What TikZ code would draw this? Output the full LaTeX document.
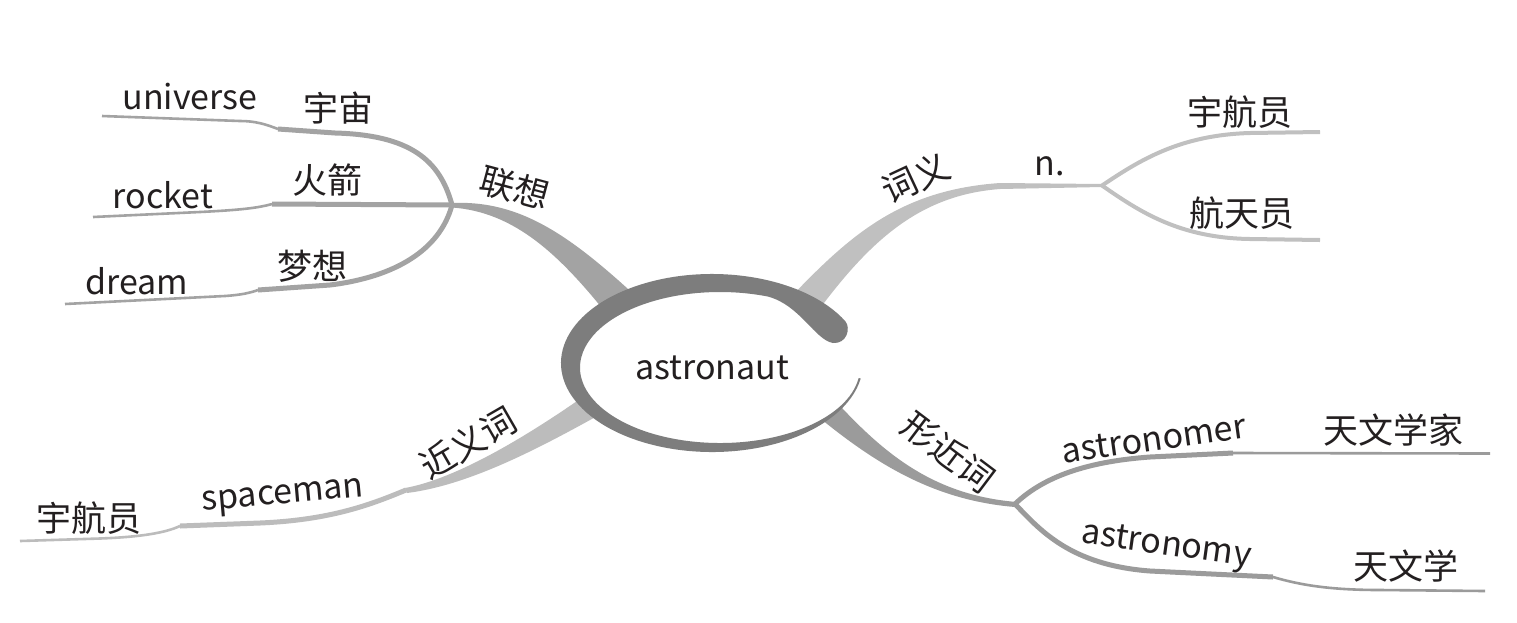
\documentclass[tikz,border=0pt]{standalone}
\usepackage{fontspec}
\setmainfont{Noto Sans CJK SC}
\definecolor{ringc}{HTML}{7D7D7D}
\definecolor{ca}{HTML}{A3A3A3}
\definecolor{cb}{HTML}{C0C0C0}
\definecolor{cc}{HTML}{BCBCBC}
\definecolor{cd}{HTML}{9B9B9B}
\definecolor{txtc}{HTML}{231F20}
\newcommand\latf{\fontsize{34}{40}\selectfont}
\newcommand\cjkf{\fontsize{35}{42}\selectfont}
\begin{document}
\begin{tikzpicture}[x=1pt,y=-1pt,
  lat/.style={inner sep=0pt, text=txtc, font=\latf},
  zh/.style={inner sep=0pt, text=txtc, font=\cjkf},
  subthick/.style={line width=5pt, line cap=butt},
  subthin/.style={line width=2.6pt, line cap=butt}]
\useasboundingbox[fill=white] (0,0) rectangle (1517,622);

% junctions
\coordinate (J1) at (452,205);
\coordinate (J2) at (1102,185.5);
\coordinate (J3) at (406,490);
\coordinate (J4) at (1015,504);

% ---------- 联想 ----------
\fill[ca] (452,203) .. controls (520,200) and (570,235) .. (640,300) -- (610,318) .. controls (560,255) and (515,212) .. (452,207.5) -- cycle;
\coordinate (U1) at (278,129);
\coordinate (U2) at (102,116);
\draw[ca,subthick] (J1) .. controls (440,160) and (410,135) .. (335,133) -- (U1);
\draw[ca,subthin] (U1) .. controls (265,124) and (255,121) .. (240,121) -- (U2);
\coordinate (R1) at (272,204);
\coordinate (R2) at (93,217);
\draw[ca,subthick] (J1) -- (R1);
\draw[ca,subthin] (R1) .. controls (258,208) and (240,210) .. (200,212) -- (R2);
\coordinate (D1) at (258,290);
\coordinate (D2) at (65,304);
\draw[ca,subthick] (J1) .. controls (440,250) and (395,277) .. (330,285) -- (D1);
\draw[ca,subthin] (D1) .. controls (250,293) and (240,295) .. (225,296) -- (D2);

% ---------- 词义 ----------
\fill[cb] (788,300) .. controls (850,235) and (900,190) .. (1000,183) -- (1102,184) -- (1102,187) -- (1000,189) .. controls (920,195) and (870,240) .. (815,315) -- cycle;
\coordinate (Y1) at (1320,132);
\coordinate (Y2) at (1320,240);
\draw[cb,line width=4pt] (J2) .. controls (1140,160) and (1180,135) .. (1250,133) -- (Y1);
\draw[cb,line width=4pt] (J2) .. controls (1140,212) and (1180,238) .. (1250,239) -- (Y2);

% ---------- 近义词 ----------
\fill[cc] (405,488) .. controls (450,480) and (515,445) .. (590,392) -- (608,410) .. controls (540,448) and (470,485) .. (407,493) -- cycle;
\coordinate (S1) at (180,526);
\coordinate (S2) at (20,541);
\draw[cc,subthick] (J3) .. controls (370,505) and (330,520) .. (260,523) -- (S1);
\draw[cc,subthin] (S1) .. controls (165,533) and (140,537) .. (100,538.5) -- (S2);

% ---------- 形近词 ----------
\fill[cd] (830,395) .. controls (880,450) and (930,495) .. (1017,502) -- (1015,507) .. controls (930,500) and (870,460) .. (810,410) -- cycle;
\coordinate (A1) at (1233,453);
\coordinate (A2) at (1490,453.5);
\draw[cd,subthick] (J4) .. controls (1040,480) and (1080,462) .. (1150,457) -- (A1);
\draw[cd,subthin] (A1) -- (A2);
\coordinate (B1) at (1273,577);
\coordinate (B2) at (1485,591);
\draw[cd,subthick] (J4) .. controls (1040,530) and (1070,565) .. (1150,571) -- (B1);
\draw[cd,subthin] (B1) .. controls (1300,585) and (1330,590) .. (1380,590) -- (B2);

% ---------- centre ----------
\fill[white] (712,363) ellipse[x radius=150, y radius=88];
\fill[white] (720,367.5) ellipse[x radius=140, y radius=75.5];
\fill[ringc] ([shift={(712,363)}]332:151 and 89) arc[start angle=332, end angle=10, x radius=151, y radius=89]
  -- ([shift={(720,367.5)}]8:140 and 75.5) arc[start angle=8, end angle=290, x radius=140, y radius=75.5]
  .. controls (800,305) and (815,340) .. (833,343)
  .. controls (847,344) and (851,328) .. ([shift={(712,363)}]332:151 and 89) -- cycle;
\node[lat] (center) at (712,368) {astronaut};

% ---------- texts ----------
\node[zh,rotate=-15] (lx) at (515,188) {联想};
\node[lat] (universe) at (190,97) {universe};
\node[zh] (yz) at (338,108) {宇宙};
\node[lat] (rocket) at (163,195) {rocket};
\node[zh] (hj) at (327,180) {火箭};
\node[lat] (dream) at (137,281) {dream};
\node[zh] (mx) at (312,266) {梦想};

\node[zh,rotate=25] (cy) at (916,178) {词义};
\node[lat] (n) at (1050,166) {n.};
\node[zh] (yhy) at (1240,112) {宇航员};
\node[zh] (hty) at (1242,213) {航天员};

\node[zh,rotate=30] (jyc) at (468,443) {近义词};
\node[lat,rotate=5] (spaceman) at (283,498) {spaceman};
\node[zh] (yhy2) at (89,518) {宇航员};

\node[zh,rotate=-37] (xjc) at (948,452) {形近词};
\node[lat,rotate=8] (astronomer) at (1154,439) {astronomer};
\node[zh] (twxj) at (1393,430) {天文学家};
\node[lat,rotate=-8] (astronomy) at (1166,547) {astronomy};
\node[zh] (twx) at (1406,566) {天文学};
\end{tikzpicture}
\end{document}
